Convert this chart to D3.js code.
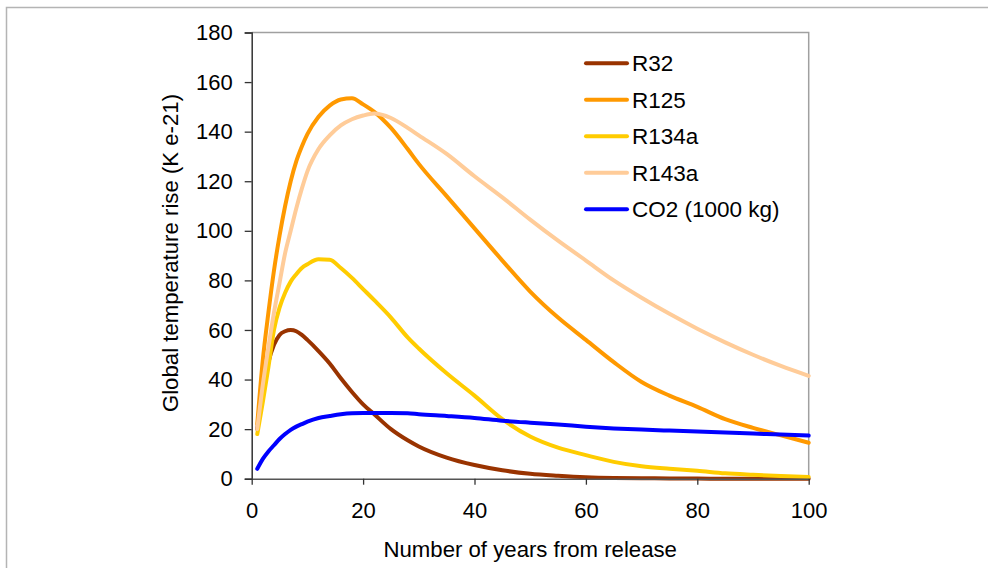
<!DOCTYPE html>
<html>
<head>
<meta charset="utf-8">
<script src="https://cdn.jsdelivr.net/npm/d3@7"></script>
<style>
  html, body { margin: 0; padding: 0; background: #fff; }
  svg { display: block; font-family: "Liberation Sans", Arial, Helvetica, sans-serif; }
</style>
</head>
<body>
<svg id="chart" width="988" height="568"></svg>
<script>
const years = [1,2,3,4,5,6,7,8,9,10,12,14,16,18,20,22,25,28,30,35,40,45,50,55,60,65,70,75,80,85,90,95,100];
const r32   = [20,36,47,54,58,59.5,60,59.5,58,56,51.5,46.5,40.5,35,30,26,20,15.5,13,8.5,5.5,3.4,2,1.2,0.6,0.3,0.2,0.1,0.05,0,0,0,0];
const r125  = [22,48,67,84,98,110,120,128,134,139,146,150.5,153,153.5,151,148,141.5,133,127,114,101,88,75.5,65,56,47,39,33.5,29,24,20.5,17.5,14.5];
const r134a = [18,31,45,60,69,75,79.5,82.5,85,86.5,88.5,88.3,85,81,76.5,72,65,57,52.5,42.5,33.5,24,17,12.5,9.5,6.8,5,4,3.2,2.2,1.6,1.1,0.7];
const r143a = [20,38,53,67,79,91,100,109,117,124,133,138.5,142.5,145,146.5,147.3,145.5,141.5,138.5,131,122,113.5,104.5,96,88,80,73,66.5,60.5,55,50,45.5,41.5];
const co2   = [4,8,11,13.5,16,18,19.7,21,22,23,24.5,25.3,26,26.4,26.5,26.5,26.5,26.4,26,25.3,24.5,23.4,22.6,21.9,21,20.3,19.8,19.4,19,18.6,18.2,17.8,17.4];
const seriesNames = ["R32","R125","R134a","R143a","CO2 (1000 kg)"];
const seriesColors = ["#993300","#FF9900","#FFCC00","#FFCC99","#0000FF"];
const xTicks = [0,20,40,60,80,100];
const yTicks = [0,20,40,60,80,100,120,140,160,180];
const xTitle = "Number of years from release";
const yTitle = "Global temperature rise (K e-21)";

const seriesValues = [r32, r125, r134a, r143a, co2];
const svg = d3.select("#chart");

// outer frame
svg.append("rect").attr("x", 6.5).attr("y", 7.5).attr("width", 1000).attr("height", 600)
  .attr("fill", "none").attr("stroke", "#b4b4b4").attr("stroke-width", 1.5);

const L = 251.7, R = 808.7, T = 32.5, B = 478.7;
const x = d3.scaleLinear().domain([0, 100]).range([L, R]);
const y = d3.scaleLinear().domain([0, 180]).range([B, T]);

// plot border (top & right gray)
svg.append("path").attr("d", `M${L},${T}H${R}V${B}`).attr("fill", "none")
  .attr("stroke", "#a0a0a0").attr("stroke-width", 1.5);

// series lines
const line = d3.line().x((d, i) => x(years[i])).y(d => y(d)).curve(d3.curveMonotoneX);
seriesValues.forEach((vals, k) => {
  svg.append("path").datum(vals).attr("d", line).attr("fill", "none")
    .attr("stroke", seriesColors[k]).attr("stroke-width", 4)
    .attr("stroke-linejoin", "round").attr("stroke-linecap", "round");
});

// axes
const yAxis = d3.axisLeft(y).tickValues(yTicks).tickSize(7).tickPadding(12);
const gy = svg.append("g").attr("transform", `translate(${L},0)`).call(yAxis);
gy.select(".domain").attr("stroke", "#333").attr("stroke-width", 1.5);
gy.selectAll(".tick line").attr("stroke", "#333").attr("stroke-width", 1.3);
gy.selectAll(".tick text").attr("font-size", 22).attr("fill", "#000")
  .attr("font-family", "Liberation Sans, Arial, sans-serif");

const xAxis = d3.axisBottom(x).tickValues(xTicks).tickSize(6).tickPadding(17.5).tickSizeOuter(0);
const gx = svg.append("g").attr("transform", `translate(0,${B})`).call(xAxis);
gx.select(".domain").attr("stroke", "#555").attr("stroke-width", 1.5);
gx.selectAll(".tick line").attr("stroke", "#333").attr("stroke-width", 1.3);
gx.selectAll(".tick text").attr("font-size", 22).attr("fill", "#000")
  .attr("font-family", "Liberation Sans, Arial, sans-serif");

// axis titles
svg.append("text").attr("x", (L + R) / 2).attr("y", 557).attr("text-anchor", "middle")
  .attr("font-size", 22.2).attr("fill", "#000").text(xTitle);
svg.append("text").attr("transform", `translate(178,253) rotate(-90)`).attr("text-anchor", "middle")
  .attr("font-size", 22.2).attr("fill", "#000").text(yTitle);

// legend
const legendX1 = 586, legendX2 = 627, legendY0 = 63.3, legendDy = 36.5;
seriesNames.forEach((name, k) => {
  const yy = legendY0 + k * legendDy;
  svg.append("line").attr("x1", legendX1).attr("x2", legendX2).attr("y1", yy).attr("y2", yy)
    .attr("stroke", seriesColors[k]).attr("stroke-width", 4).attr("stroke-linecap", "round");
  svg.append("text").attr("x", 632).attr("y", yy).attr("dy", "0.36em")
    .attr("font-size", 22.5).attr("fill", "#000").text(name);
});
</script>
</body>
</html>
